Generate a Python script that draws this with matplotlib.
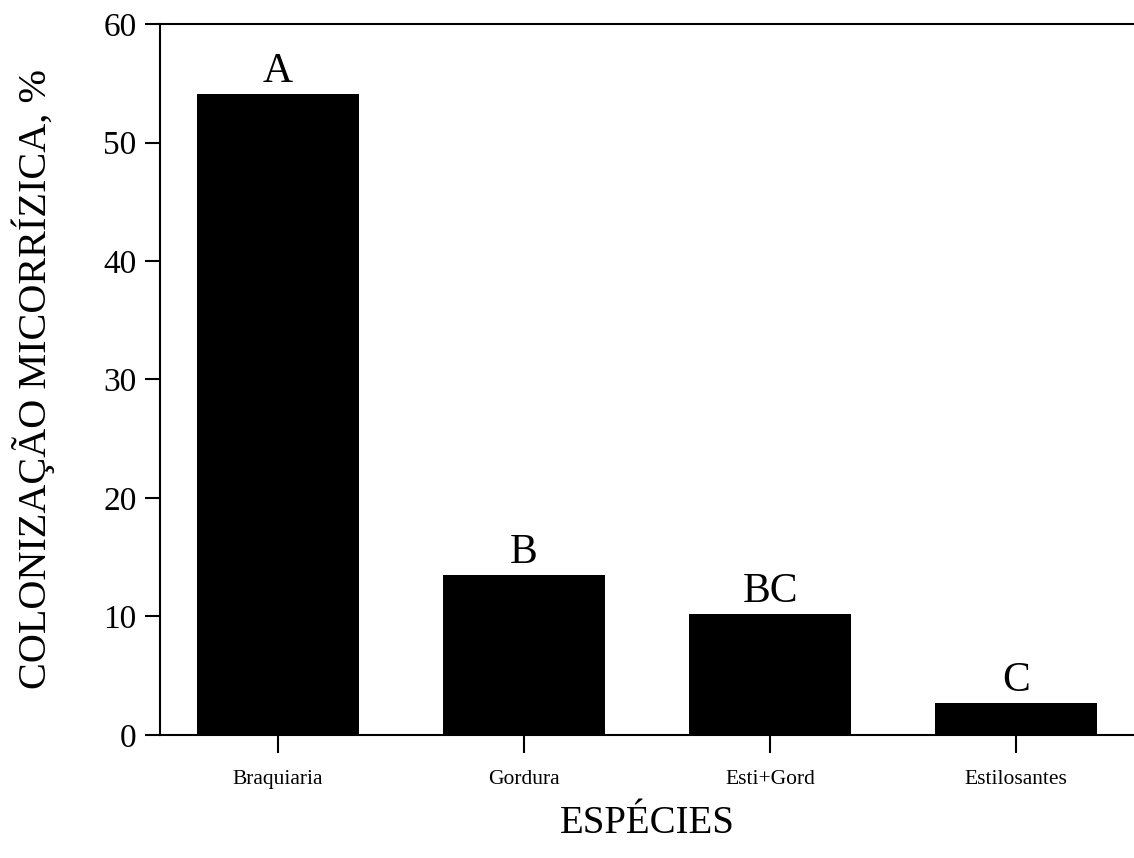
import matplotlib.pyplot as plt
import numpy as np

plt.rcParams['font.family'] = ['Liberation Serif', 'DejaVu Serif']

especies = ['Braquiaria', 'Gordura', 'Esti+Gord', 'Estilosantes']
colonizacao = [54.1, 13.5, 10.2, 2.7]
letras = ['A', 'B', 'BC', 'C']

fig = plt.figure(figsize=(11.34, 8.58), dpi=100)
ax = fig.add_axes([0.1411, 0.1434, 0.859, 0.8286])

pos = np.arange(len(especies))
ax.bar(pos, colonizacao, width=0.66, color='black')

# letters of the means test, sitting on top of each bar
for x, y, txt in zip(pos, colonizacao, letras):
    ax.annotate(txt, (x, y), xytext=(0, 2), textcoords='offset points',
                ha='center', va='bottom', fontsize=30)

ax.set_xlim(-0.48, 3.48)
ax.set_ylim(0, 60)
ax.set_yticks(np.arange(0, 61, 10))
ax.set_xticks(pos)
ax.set_xticklabels(especies, fontsize=15.5)
ax.tick_params(axis='y', labelsize=24, length=11, width=1.5, direction='out', pad=6)
ax.tick_params(axis='x', length=13, width=1.5, direction='out', pad=12)

for side in ['left', 'top', 'bottom']:
    ax.spines[side].set_linewidth(1.5)
ax.spines['right'].set_visible(False)

ax.set_ylabel('COLONIZAÇÃO MICORRÍZICA, %', fontsize=29)
ax.yaxis.set_label_coords(-0.108, 0.5)
ax.set_xlabel('ESPÉCIES', fontsize=28, labelpad=12)

fig.savefig('out.png', dpi=100)
